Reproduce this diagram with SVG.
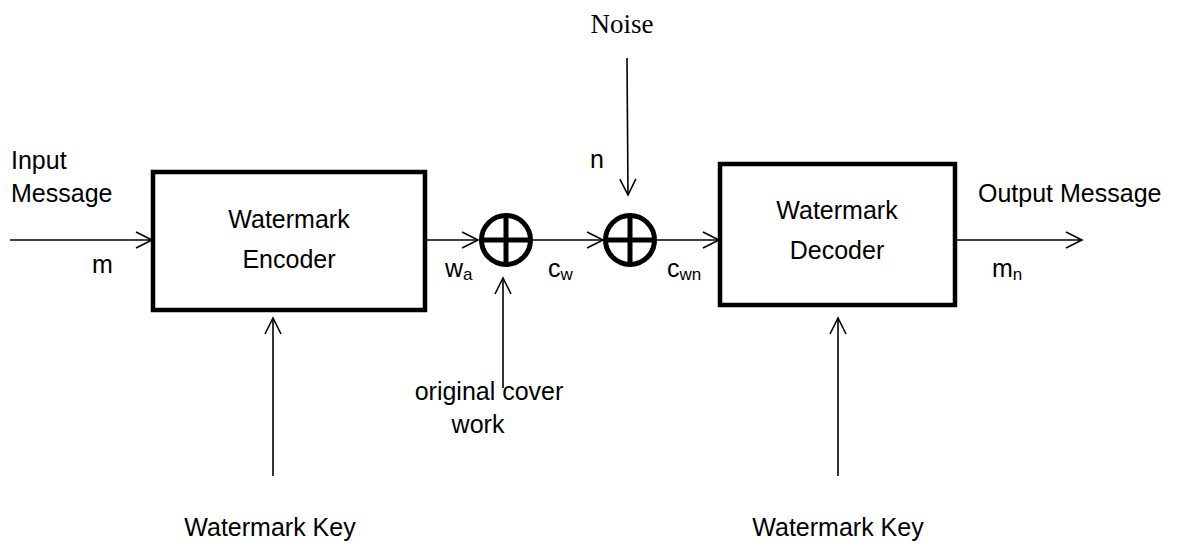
<svg xmlns="http://www.w3.org/2000/svg" width="1178" height="551" viewBox="0 0 1178 551">
<style>
.t{font-family:"Liberation Sans",Arial,sans-serif;font-size:25px;fill:#000}
.s{font-size:17px}
.box{fill:none;stroke:#000;stroke-width:4.5}
.sum{fill:none;stroke:#000;stroke-width:5}
.ln{fill:none;stroke:#000;stroke-width:1.6}
</style>
<defs>
<marker id="ah" markerUnits="userSpaceOnUse" markerWidth="20" markerHeight="20" refX="17" refY="9" orient="auto">
<path d="M1,1 L17,9 L1,17" fill="none" stroke="#000" stroke-width="1.6"/>
</marker>
</defs>
<rect width="1178" height="551" fill="#fff"/>
<g id="encoder">
<rect class="box" x="153" y="172" width="272" height="138"/>
<text class="t" x="289" y="228" text-anchor="middle">Watermark</text>
<text class="t" x="289" y="268" text-anchor="middle">Encoder</text>
</g>
<g id="decoder">
<rect class="box" x="720" y="164" width="235" height="141"/>
<text class="t" x="837" y="219" text-anchor="middle">Watermark</text>
<text class="t" x="837" y="259" text-anchor="middle">Decoder</text>
</g>
<g id="sum1">
<circle class="sum" cx="506" cy="240" r="24.5"/>
<path class="sum" d="M481.5,240 H530.5 M506,215.5 V264.5"/>
</g>
<g id="sum2">
<circle class="sum" cx="630" cy="240" r="24.5"/>
<path class="sum" d="M605.5,240 H654.5 M630,215.5 V264.5"/>
</g>
<g id="connectors">
<line class="ln" x1="10" y1="240" x2="152" y2="240" marker-end="url(#ah)"/>
<line class="ln" x1="427" y1="240" x2="478" y2="240" marker-end="url(#ah)"/>
<line class="ln" x1="533" y1="240" x2="603" y2="240" marker-end="url(#ah)"/>
<line class="ln" x1="657" y1="240" x2="719" y2="240" marker-end="url(#ah)"/>
<line class="ln" x1="957" y1="240" x2="1082" y2="240" marker-end="url(#ah)"/>
<line class="ln" x1="627" y1="58" x2="628" y2="195" marker-end="url(#ah)"/>
<line class="ln" x1="503" y1="388" x2="503" y2="278" marker-end="url(#ah)"/>
<line class="ln" x1="273" y1="476" x2="273" y2="318" marker-end="url(#ah)"/>
<line class="ln" x1="838" y1="476" x2="838" y2="318" marker-end="url(#ah)"/>
</g>
<g id="labels">
<text x="622" y="33" text-anchor="middle" style="font-family:'Liberation Serif','Times New Roman',serif;font-size:27px">Noise</text>
<text class="t" x="11" y="169">Input</text>
<text class="t" x="11" y="202">Message</text>
<text class="t" x="92" y="273">m</text>
<text class="t" x="445" y="277">w<tspan class="s" dy="3">a</tspan></text>
<text class="t" x="548" y="277">c<tspan class="s" dy="3">w</tspan></text>
<text class="t" x="667" y="277">c<tspan class="s" dy="3">wn</tspan></text>
<text class="t" x="590" y="168">n</text>
<text class="t" x="978" y="202">Output Message</text>
<text class="t" x="992" y="277">m<tspan class="s" dy="3">n</tspan></text>
<text class="t" x="489" y="400" text-anchor="middle">original cover</text>
<text class="t" x="478" y="433" text-anchor="middle">work</text>
<text class="t" x="270" y="536" text-anchor="middle">Watermark Key</text>
<text class="t" x="838" y="536" text-anchor="middle">Watermark Key</text>
</g>
</svg>
